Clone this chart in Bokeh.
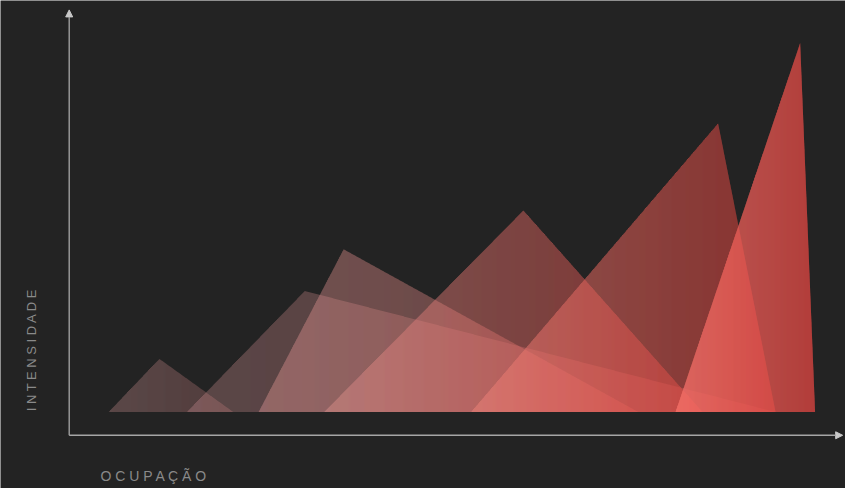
import numpy as np
from bokeh.plotting import figure
from bokeh.models import Range1d, Arrow, NormalHead, Label
from bokeh.embed import file_html
from bokeh.resources import INLINE

# ---- data (ocupação on x, intensidade on y) ----
names = ["A", "B", "C", "D", "E", "F"]
start = [5.3, 15.8, 25.4, 34.2, 53.9, 81.3]
peak_x = [12.1, 31.6, 36.8, 60.9, 87.0, 98.0]
end = [22.0, 94.7, 76.3, 84.9, 94.7, 100.0]
height = [14.4, 32.8, 44.1, 54.6, 78.2, 100.0]

# gradient colours (left -> right) and opacity of each shape
left_colors = [(238, 172, 172), (222, 156, 158), (232, 158, 156),
               (228, 150, 146), (240, 135, 126), (250, 118, 110)]
right_colors = [(205, 125, 125), (218, 105, 102), (215, 105, 100),
                (242, 72, 66), (236, 66, 60), (232, 72, 68)]
alphas = [0.30, 0.33, 0.45, 0.52, 0.60, 0.95]

x_label = "OCUPAÇÃO"
y_label = "INTENSIDADE"

BG = "#232323"
W, H = 845, 488
X0, X1 = -9.21, 104.08
Y0, Y1 = -20.73, 111.55
px_per_x = W / (X1 - X0)

p = figure(width=W, height=H, output_backend="svg", toolbar_location=None,
           x_range=Range1d(X0, X1), y_range=Range1d(Y0, Y1),
           min_border=0, background_fill_color=BG, border_fill_color=BG,
           outline_line_color=None)
p.axis.visible = False
p.grid.visible = False


def top(x, l, pk, r, h):
    if x <= pk:
        return h * (x - l) / (pk - l)
    return h * (r - x) / (r - pk)


for l, pk, r, h, a, cl, cr in zip(start, peak_x, end, height, alphas,
                                  left_colors, right_colors):
    cl = np.array(cl, float)
    cr = np.array(cr, float)
    pl = (l - X0) * px_per_x
    pr = (r - X0) * px_per_x
    ks = np.arange(np.ceil(pl), np.floor(pr) + 1, 1.0)
    bounds = np.concatenate([[l], X0 + ks / px_per_x, [r]])
    bounds = np.unique(np.clip(bounds, l, r))
    xs, ys, cols = [], [], []
    for xa, xb in zip(bounds[:-1], bounds[1:]):
        if xb - xa <= 1e-9:
            continue
        px = [xa, xa]
        py = [0, top(xa, l, pk, r, h)]
        if xa < pk < xb:
            px.append(pk)
            py.append(h)
        px += [xb, xb]
        py += [top(xb, l, pk, r, h), 0]
        t = ((xa + xb) / 2 - l) / (r - l)
        c = np.clip(cl + (cr - cl) * t, 0, 255)
        xs.append(px)
        ys.append(py)
        cols.append("#%02x%02x%02x" % tuple(int(round(v)) for v in c))
    p.patches(xs=xs, ys=ys, fill_color=cols, fill_alpha=a, line_color=None)

# axes with arrow heads
AX_COL = "#a6a6a6"
axis_y = -6.3
p.add_layout(Arrow(x_start=0, y_start=axis_y, x_end=0, y_end=109.0,
                   line_color=AX_COL, line_width=1.3,
                   end=NormalHead(size=7, fill_color="#c8c8c8", line_color="#c8c8c8")))
p.add_layout(Arrow(x_start=0, y_start=axis_y, x_end=103.7, y_end=axis_y,
                   line_color=AX_COL, line_width=1.3,
                   end=NormalHead(size=7, fill_color="#c8c8c8", line_color="#c8c8c8")))

LBL_COL = "#8a8a8a"
p.add_layout(Label(x=31, y=139, x_units="screen", y_units="screen",
                   text=" ".join(y_label), angle=np.pi / 2,
                   text_align="center", text_baseline="middle",
                   text_font="Liberation Sans", text_font_size="13px",
                   text_color=LBL_COL))
p.add_layout(Label(x=100, y=13, x_units="screen", y_units="screen",
                   text=" ".join(x_label),
                   text_align="left", text_baseline="alphabetic",
                   text_font="Liberation Sans", text_font_size="14px",
                   text_color=LBL_COL))

open("out.html", "w").write(file_html(p, INLINE))
